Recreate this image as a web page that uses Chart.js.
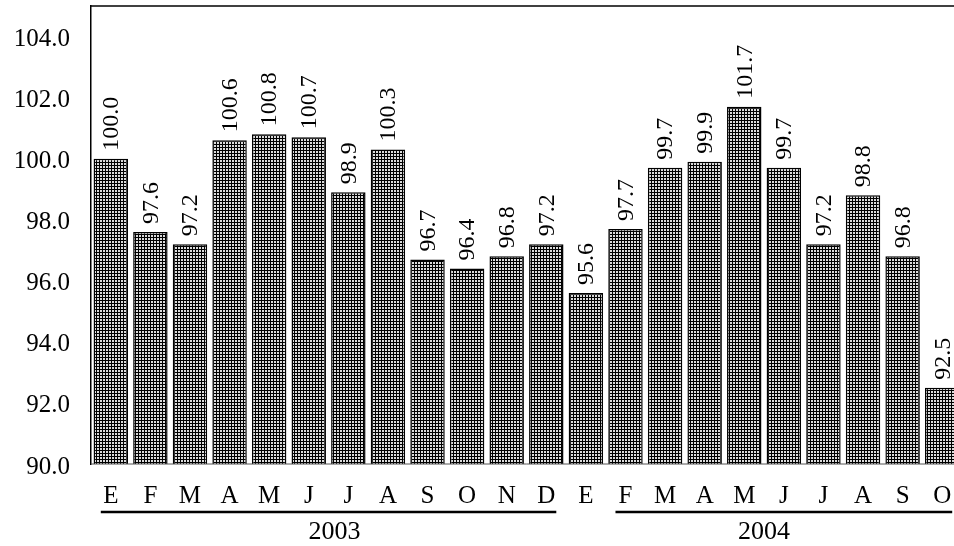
<!DOCTYPE html>
<html>
<head>
<meta charset="utf-8">
<script src="https://cdn.jsdelivr.net/npm/chart.js@4.4.1/dist/chart.umd.min.js"></script>
<style>
  html, body { margin: 0; padding: 0; background: #fff; overflow: hidden; }
  #wrap { width: 954px; height: 546px; overflow: hidden; }
</style>
</head>
<body>
<div id="wrap"><canvas id="c" width="962" height="546"></canvas></div>
<script>
// Monthly index, January 2003 to October 2004
const months = ['E','F','M','A','M','J','J','A','S','O','N','D',
                'E','F','M','A','M','J','J','A','S','O'];
const values2003 = [100.0, 97.6, 97.2, 100.6, 100.8, 100.7, 98.9, 100.3, 96.7, 96.4, 96.8, 97.2];
const values2004 = [95.6, 97.7, 99.7, 99.9, 101.7, 99.7, 97.2, 98.8, 96.8, 92.5];
const yTicks = [90, 92, 94, 96, 98, 100, 102, 104];
const years = ['2003', '2004'];
// index ranges of each year's months: [label from, label to, underline from, underline to]
const yearRanges = [[0, 11, 0, 11], [12, 21, 13, 21]];

const FONT = '"Liberation Serif", "Times New Roman", serif';

// fine cross-hatch fill for the bars
function hatch() {
  const t = document.createElement('canvas');
  t.width = 3; t.height = 3;
  const g = t.getContext('2d');
  g.fillStyle = '#dcdcdc'; g.fillRect(0, 0, 3, 3);
  g.fillStyle = '#000000';
  g.fillRect(0, 0, 3, 1);
  g.fillRect(0, 0, 1, 3);
  return g.createPattern(t, 'repeat');
}

const decorations = {
  id: 'decorations',
  afterDatasetsDraw(chart) {
    const ctx = chart.ctx;
    const a = chart.chartArea;
    const xs = chart.scales.x;
    ctx.save();
    // frame: top and bottom edges of the plot
    ctx.strokeStyle = '#000';
    ctx.lineWidth = 1.5;
    ctx.beginPath();
    ctx.moveTo(a.left, a.top); ctx.lineTo(a.right, a.top);
    ctx.stroke();
    ctx.lineWidth = 1;
    ctx.strokeStyle = '#555';
    ctx.beginPath();
    ctx.moveTo(a.left, a.bottom); ctx.lineTo(a.right, a.bottom);
    ctx.stroke();

    // value labels, rotated, above each bar
    ctx.fillStyle = '#000';
    ctx.font = '24px ' + FONT;
    ctx.textAlign = 'left';
    ctx.textBaseline = 'middle';
    const meta = chart.getDatasetMeta(0);
    const data = chart.data.datasets[0].data;
    meta.data.forEach((bar, i) => {
      ctx.save();
      ctx.translate(bar.x, bar.y - 8);
      ctx.rotate(-Math.PI / 2);
      ctx.fillText(data[i].toFixed(1), 0, 1);
      ctx.restore();
    });

    // year groups under the month labels
    ctx.lineWidth = 2.5;
    ctx.strokeStyle = '#000';
    ctx.font = '26px ' + FONT;
    ctx.textAlign = 'center';
    ctx.textBaseline = 'middle';
    yearRanges.forEach((r, k) => {
      const u0 = xs.getPixelForValue(r[2]) - 10;
      const u1 = xs.getPixelForValue(r[3]) + 10;
      ctx.beginPath();
      ctx.moveTo(u0, 512); ctx.lineTo(u1, 512);
      ctx.stroke();
      const cx = (xs.getPixelForValue(r[0]) + xs.getPixelForValue(r[1])) / 2;
      ctx.fillText(years[k], cx + (k === 0 ? 6 : 0), 532);
    });
    ctx.restore();
  }
};

new Chart(document.getElementById('c'), {
  type: 'bar',
  data: {
    labels: months,
    datasets: [{
      data: values2003.concat(values2004),
      backgroundColor: hatch(),
      borderColor: '#000',
      borderWidth: 1.5,
      borderSkipped: false,
      barPercentage: 0.87,
      categoryPercentage: 1.0
    }]
  },
  options: {
    responsive: false,
    animation: false,
    layout: { padding: { top: 6, right: 0, bottom: 0, left: 0 } },
    plugins: { legend: { display: false }, tooltip: { enabled: false } },
    scales: {
      x: {
        grid: { display: false },
        border: { display: false },
        ticks: { color: '#000', font: { family: FONT, size: 25 }, padding: 9, maxRotation: 0, autoSkip: false },
        afterFit(s) { s.height = 82; s.paddingLeft = 0; s.paddingRight = 0; }
      },
      y: {
        min: 90, max: 105,
        grid: { display: false },
        border: { display: true, color: '#000', width: 1.5 },
        ticks: { color: '#000', font: { family: FONT, size: 25 }, padding: 13, labelOffset: 3,
                 callback: v => Number(v).toFixed(1) },
        afterBuildTicks(s) { s.ticks = yTicks.map(v => ({ value: v })); },
        afterFit(s) { s.width = 91; s.paddingTop = 0; s.paddingBottom = 0; }
      }
    }
  },
  plugins: [decorations]
});
</script>
</body>
</html>
